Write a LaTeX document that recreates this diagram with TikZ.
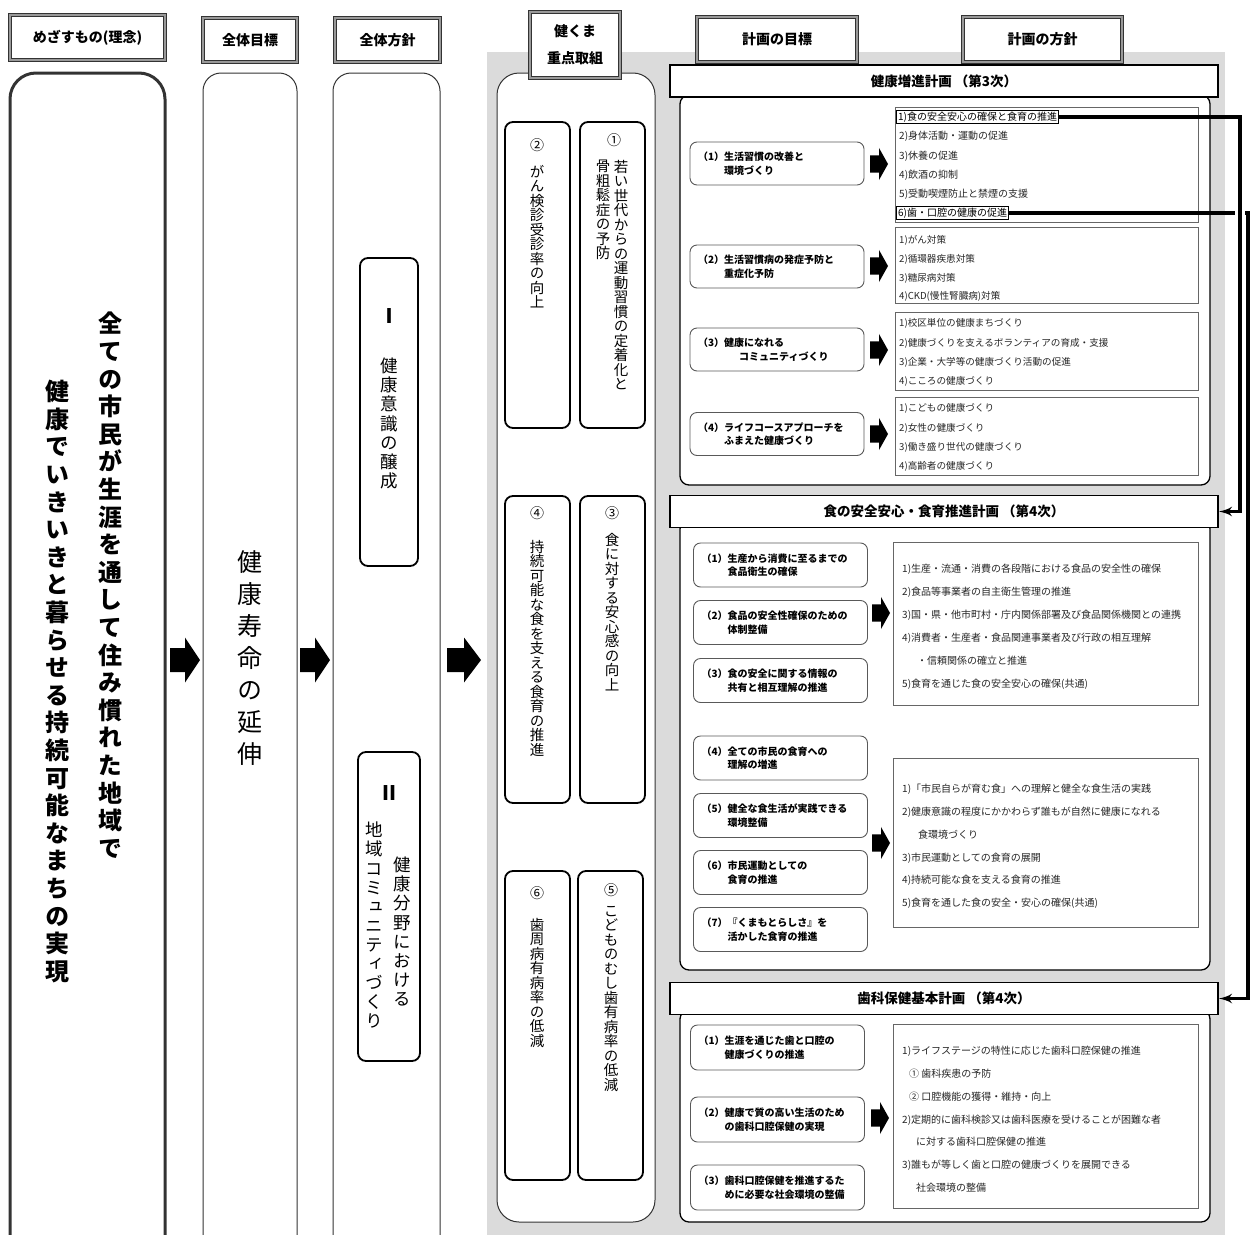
\documentclass[tikz,border=0pt]{standalone}
\usepackage{fontspec}
\setmainfont{Noto Sans CJK JP}
\newfontfamily\tatefont[RawFeature=+vert]{Noto Sans CJK JP}
\usetikzlibrary{positioning}
\usetikzlibrary{shapes,arrows}

% vertical writing: one character per line
\ExplSyntaxOn
\NewDocumentCommand \tate { O{1.0} m }
  {
    \vtop
      {
        \baselineskip = #1 em
        \lineskiplimit = -100pt \scan_stop:
        \tl_map_inline:nn {#2} { \hbox_to_wd:nn {1em} { \hss ##1 \hss } }
      }
  }
\ExplSyntaxOff

\tikzstyle{midasi} = [rectangle, draw=black!80, double=black!40, double distance=1.4pt,
    line width=1pt, fill=white, font=\bfseries\fontsize{14}{27}\selectfont, align=center]
\tikzstyle{hashira} = [rectangle, rounded corners=18pt, draw=black!80, line width=1pt, fill=white]
\tikzstyle{waku} = [rectangle, rounded corners=8pt, draw, line width=1.8pt, fill=white]
\tikzstyle{tatebun} = [inner sep=0pt, anchor=north]
\tikzstyle{keikaku} = [rectangle, draw, line width=1.8pt, fill=white,
    minimum width=548pt, minimum height=32pt, font=\bfseries\fontsize{13.5}{16}\selectfont]
\tikzstyle{honbun} = [rectangle, rounded corners=9pt, draw, line width=1.3pt, fill=white,
    minimum width=530pt]
\tikzstyle{mokuhyo} = [rectangle, rounded corners=7pt, draw=black!65, line width=0.9pt,
    fill=white, minimum width=174pt, minimum height=43pt, text width=158pt, align=left,
    font=\bfseries\fontsize{10}{13.5}\selectfont]
\tikzstyle{hoshin} = [rectangle, draw=black!60, line width=0.8pt, fill=white, minimum width=303pt]
\tikzstyle{koumoku} = [anchor=north west, inner sep=0pt, align=left, text=black!85]
\tikzstyle{sen} = [draw, line width=3.5pt, -latex']
\tikzset{yaji/.pic={\fill (-1,-0.8) -- (0,-0.8) -- (0,-1.5) -- (1,0) -- (0,1.5) -- (0,0.8) -- (-1,0.8) -- cycle;}}

\begin{document}
\begin{tikzpicture}[x=1pt, y=-1pt]
    \useasboundingbox (0,0) rectangle (1258,1234);
    \clip (0,0) rectangle (1258,1234);
    \fill [black!14] (487,52) rectangle (1225,1240);

    % Place columns
    \node [hashira, line width=3pt, rounded corners=26pt, minimum width=155pt, minimum height=1190pt] (col1) at (87.5,668) {};
    \node [hashira, minimum width=94pt, minimum height=1190pt] (col2) at (250,668) {};
    \node [hashira, minimum width=107pt, minimum height=1190pt] (col3) at (386.5,668) {};
    \node [hashira, rounded corners=22pt, minimum width=158pt, minimum height=1149pt] (col4) at (576,647.5) {};

    % Place headers
    \node [midasi, minimum width=155pt, minimum height=45pt] (mezasu) at (87.5,37.5) {めざすもの(理念)};
    \node [midasi, minimum width=94pt, minimum height=44pt] (zmoku) at (250,40) {全体目標};
    \node [midasi, minimum width=105pt, minimum height=44pt] (zhou) at (387.5,40) {全体方針};
    \node [midasi, minimum width=90pt, minimum height=66pt] (kenkuma) at (575,45) {健くま\\重点取組};
    \node [midasi, minimum width=160pt, minimum height=45pt] (kmoku) at (777,39.5) {計画の目標};
    \node [midasi, minimum width=159pt, minimum height=45pt] (khou) at (1042.5,39.5) {計画の方針};

    % vertical texts
    \node [tatebun, font=\tatefont\bfseries\fontsize{24}{24}\selectfont] (rinen1) at (110,312) {\tate[1.15]{全ての市民が生涯を通して住み慣れた地域で}};
    \node [tatebun, font=\tatefont\bfseries\fontsize{24}{24}\selectfont] (rinen2) at (57,380) {\tate[1.15]{健康でいきいきと暮らせる持続可能なまちの実現}};
    \node [tatebun, font=\tatefont\fontsize{25}{25}\selectfont] (mokuhyo) at (250,550) {\tate[1.28]{健康寿命の延伸}};

    \node [waku, minimum width=58pt, minimum height=308pt] (hs1) at (389,412) {};
    \node [waku, minimum width=62pt, minimum height=309pt] (hs2) at (389,906.5) {};
    \node [font=\bfseries\fontsize{20}{20}\selectfont] (hs1n) at (389,316) {Ⅰ};
    \node [tatebun, font=\tatefont\fontsize{17.5}{17.5}\selectfont] (hs1t) at (389,358) {\tate[1.09]{健康意識の醸成}};
    \node [font=\bfseries\fontsize{20}{20}\selectfont] (hs2n) at (389,793) {Ⅱ};
    \node [tatebun, font=\tatefont\fontsize{17.5}{17.5}\selectfont] (hs2a) at (402,857) {\tate[1.09]{健康分野における}};
    \node [tatebun, font=\tatefont\fontsize{17.5}{17.5}\selectfont] (hs2b) at (374,822) {\tate[1.09]{地域コミュニティづくり}};

    \node [waku, minimum width=65pt, minimum height=306pt] (j1) at (612.5,275) {};
    \node [waku, minimum width=65pt, minimum height=306pt] (j2) at (537.5,275) {};
    \node [waku, minimum width=65pt, minimum height=307pt] (j3) at (612.5,649.5) {};
    \node [waku, minimum width=65pt, minimum height=307pt] (j4) at (537.5,649.5) {};
    \node [waku, minimum width=65pt, minimum height=309pt] (j5) at (610.5,1025.5) {};
    \node [waku, minimum width=65pt, minimum height=309pt] (j6) at (537.5,1025.5) {};
    \node [font=\fontsize{14}{14}\selectfont] (j1n) at (614,140) {①};
    \node [tatebun, font=\tatefont\fontsize{14.5}{14.5}\selectfont] (j1a) at (621,160) {\tate{若い世代からの運動習慣の定着化と}};
    \node [tatebun, font=\tatefont\fontsize{14.5}{14.5}\selectfont] (j1b) at (603,160) {\tate{骨粗鬆症の予防}};
    \node [font=\fontsize{14}{14}\selectfont] (j2n) at (537,145) {②};
    \node [tatebun, font=\tatefont\fontsize{14.5}{14.5}\selectfont] (j2a) at (537,165) {\tate{がん検診受診率の向上}};
    \node [font=\fontsize{14}{14}\selectfont] (j3n) at (612,513) {③};
    \node [tatebun, font=\tatefont\fontsize{14.5}{14.5}\selectfont] (j3a) at (612,533) {\tate{食に対する安心感の向上}};
    \node [font=\fontsize{14}{14}\selectfont] (j4n) at (537,513) {④};
    \node [tatebun, font=\tatefont\fontsize{14.5}{14.5}\selectfont] (j4a) at (537,540) {\tate{持続可能な食を支える食育の推進}};
    \node [font=\fontsize{14}{14}\selectfont] (j5n) at (611,890) {⑤};
    \node [tatebun, font=\tatefont\fontsize{14.5}{14.5}\selectfont] (j5a) at (611,906) {\tate{こどものむし歯有病率の低減}};
    \node [font=\fontsize{14}{14}\selectfont] (j6n) at (537,893) {⑥};
    \node [tatebun, font=\tatefont\fontsize{14.5}{14.5}\selectfont] (j6a) at (537,918) {\tate{歯周病有病率の低減}};

    % big arrows
    \pic [xscale=15, yscale=15] at (185,660) {yaji};
    \pic [xscale=15, yscale=15] at (315,660) {yaji};
    \pic [xscale=17, yscale=15] at (464,660) {yaji};

    % Place plans
    \node [honbun, minimum height=390pt] (body1) at (945,290) {};
    \node [honbun, minimum height=450pt] (body2) at (945,745) {};
    \node [honbun, minimum height=212pt] (body3) at (945,1116) {};
    \node [keikaku] (sec1hd) at (944,81) {健康増進計画 （第3次）};
    \node [keikaku] (sec2hd) at (944,511.5) {食の安全安心・食育推進計画 （第4次）};
    \node [keikaku] (sec3hd) at (944,998.5) {歯科保健基本計画 （第4次）};

    \node [mokuhyo] (g11) at (777,163.5) {（1）生活習慣の改善と\\\hphantom{（1）}環境づくり};
    \node [mokuhyo] (g12) at (777,266.5) {（2）生活習慣病の発症予防と\\\hphantom{（2）}重症化予防};
    \node [mokuhyo] (g13) at (777,349.5) {（3）健康になれる\\\hphantom{（3）}\hspace{1.5em}コミュニティづくり};
    \node [mokuhyo] (g14) at (777,434) {（4）ライフコースアプローチを\\\hphantom{（4）}ふまえた健康づくり};

    \node [mokuhyo, minimum height=44pt] (g21) at (780.5,565) {（1）生産から消費に至るまでの\\\hphantom{（1）}食品衛生の確保};
    \node [mokuhyo, minimum height=44pt] (g22) at (780.5,622.5) {（2）食品の安全性確保のための\\\hphantom{（2）}体制整備};
    \node [mokuhyo, minimum height=44pt] (g23) at (780.5,680.5) {（3）食の安全に関する情報の\\\hphantom{（3）}共有と相互理解の推進};
    \node [mokuhyo, minimum height=44pt] (g24) at (780.5,758) {（4）全ての市民の食育への\\\hphantom{（4）}理解の増進};
    \node [mokuhyo, minimum height=44pt] (g25) at (780.5,815.5) {（5）健全な食生活が実践できる\\\hphantom{（5）}環境整備};
    \node [mokuhyo, minimum height=44pt] (g26) at (780.5,872.5) {（6）市民運動としての\\\hphantom{（6）}食育の推進};
    \node [mokuhyo, minimum height=44pt] (g27) at (780.5,929.5) {（7）『くまもとらしさ』を\\\hphantom{（7）}活かした食育の推進};

    \node [mokuhyo, minimum height=45pt] (g31) at (777.5,1047.5) {（1）生涯を通じた歯と口腔の\\\hphantom{（1）}健康づくりの推進};
    \node [mokuhyo, minimum height=45pt] (g32) at (777.5,1119.5) {（2）健康で質の高い生活のため\\\hphantom{（2）}の歯科口腔保健の実現};
    \node [mokuhyo, minimum height=45pt] (g33) at (777.5,1187.5) {（3）歯科口腔保健を推進するた\\\hphantom{（3）}めに必要な社会環境の整備};

    % small arrows
    \pic [xscale=9, yscale=10.7] at (879,164) {yaji};
    \pic [xscale=9, yscale=10.7] at (879,266) {yaji};
    \pic [xscale=9, yscale=10.7] at (879,350) {yaji};
    \pic [xscale=9, yscale=10.7] at (879,434) {yaji};
    \pic [xscale=9, yscale=10.7] at (881,613) {yaji};
    \pic [xscale=9, yscale=10.7] at (881,843) {yaji};
    \pic [xscale=9, yscale=10.7] at (880,1118) {yaji};

    % Place policies
    \node [hoshin, minimum height=115pt] (h11) at (1046.5,164.5) {};
    \node [hoshin, minimum height=76pt] (h12) at (1046.5,265) {};
    \node [hoshin, minimum height=78pt] (h13) at (1046.5,351) {};
    \node [hoshin, minimum height=78pt] (h14) at (1046.5,436) {};
    \node [hoshin, minimum width=305pt, minimum height=163pt] (h21) at (1045.5,623.5) {};
    \node [hoshin, minimum width=305pt, minimum height=169pt] (h22) at (1045.5,842.5) {};
    \node [hoshin, minimum width=305pt, minimum height=184pt] (h31) at (1045.5,1116) {};

    \node [draw, line width=1.3pt, inner sep=1.5pt, anchor=west, font=\fontsize{10}{12}\selectfont] (k1) at (896,117) {1)食の安全安心の確保と食育の推進};
    \node [koumoku, font=\fontsize{10}{19.3}\selectfont] (h11t) at (899,131.3) {2)身体活動・運動の促進\\3)休養の促進\\4)飲酒の抑制\\5)受動喫煙防止と禁煙の支援};
    \node [draw, line width=1.3pt, inner sep=1.5pt, anchor=west, font=\fontsize{10}{12}\selectfont] (k6) at (896,213) {6)歯・口腔の健康の促進};
    \node [koumoku, font=\fontsize{9.6}{18.7}\selectfont] (h12t) at (899,235.5) {1)がん対策\\2)循環器疾患対策\\3)糖尿病対策\\4)CKD(慢性腎臓病)対策};
    \node [koumoku, font=\fontsize{9.6}{19.3}\selectfont] (h13t) at (899,318.5) {1)校区単位の健康まちづくり\\2)健康づくりを支えるボランティアの育成・支援\\3)企業・大学等の健康づくり活動の促進\\4)こころの健康づくり};
    \node [koumoku, font=\fontsize{9.6}{19.3}\selectfont] (h14t) at (899,403.5) {1)こどもの健康づくり\\2)女性の健康づくり\\3)働き盛り世代の健康づくり\\4)高齢者の健康づくり};
    \node [koumoku, font=\fontsize{10}{23}\selectfont] (h21t) at (902,564) {1)生産・流通・消費の各段階における食品の安全性の確保\\2)食品等事業者の自主衛生管理の推進\\3)国・県・他市町村・庁内関係部署及び食品関係機関との連携\\4)消費者・生産者・食品関連事業者及び行政の相互理解\\\hspace*{1.5em}・信頼関係の確立と推進\\5)食育を通じた食の安全安心の確保(共通)};
    \node [koumoku, font=\fontsize{10}{22.8}\selectfont] (h22t) at (902,784) {1)「市民自らが育む食」への理解と健全な食生活の実践\\2)健康意識の程度にかかわらず誰もが自然に健康になれる\\\hspace*{1.6em}食環境づくり\\3)市民運動としての食育の展開\\4)持続可能な食を支える食育の推進\\5)食育を通した食の安全・安心の確保(共通)};
    \node [koumoku, font=\fontsize{10}{22.8}\selectfont] (h31t) at (902,1046) {1)ライフステージの特性に応じた歯科口腔保健の推進\\\hspace*{0.7em}① 歯科疾患の予防\\\hspace*{0.7em}② 口腔機能の獲得・維持・向上\\2)定期的に歯科検診又は歯科医療を受けることが困難な者\\\hspace*{1.4em}に対する歯科口腔保健の推進\\3)誰もが等しく歯と口腔の健康づくりを展開できる\\\hspace*{1.4em}社会環境の整備};

    % Draw edges
    \coordinate (o1) at (1240,117);
    \coordinate (o2) at (1248,212);
    \path [sen] (k6.east) -- (k6.east -| o2) -- (o2 |- sec3hd.east) -- (sec3hd.east);
    \path [sen] (k1.east) -- (k1.east -| o1) -- (o1 |- sec2hd.east) -- (sec2hd.east);
    \draw [line width=3.5pt, preaction={draw=white, line width=10pt, shorten <=8pt, shorten >=8pt}] (k1.east -| o1) -- (o1 |- sec2hd.east);
\end{tikzpicture}
\end{document}
